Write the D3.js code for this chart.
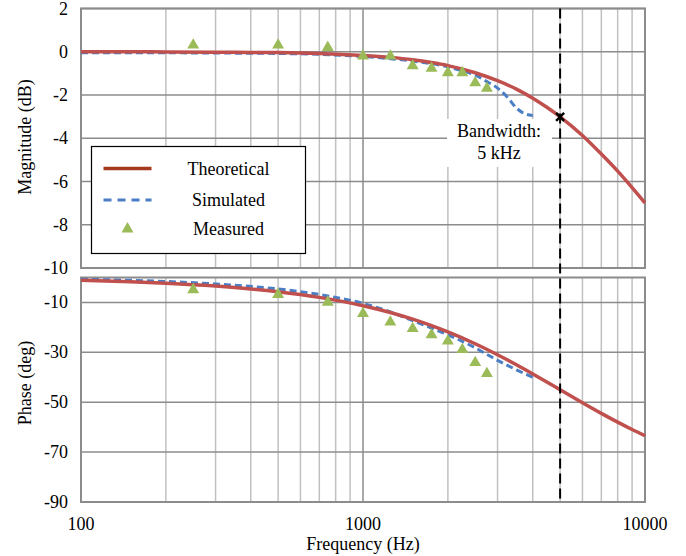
<!DOCTYPE html>
<html>
<head>
<meta charset="utf-8">
<script src="https://cdn.jsdelivr.net/npm/d3@7"></script>
<style>
  body { margin: 0; background: #fff; }
  svg text { font-family: "Liberation Serif", "DejaVu Serif", serif; fill: #000; }
</style>
</head>
<body>
<div id="chart"></div>
<script>
// theoretical curve
const theoFreq = [100, 150, 200, 300, 400, 500, 700, 1000, 1250, 1500, 1750, 2000, 2500, 3000, 3500, 4000, 4500, 5000, 6000, 7000, 8000, 9000, 10000]
const theoMag = [0, 0, -0.01, -0.02, -0.03, -0.04, -0.08, -0.17, -0.26, -0.37, -0.5, -0.64, -0.97, -1.34, -1.73, -2.15, -2.58, -3.01, -3.87, -4.73, -5.52, -6.28, -6.99]
const theoPhase = [-1.15, -1.72, -2.29, -3.43, -4.57, -5.71, -7.97, -11.31, -14.04, -16.7, -19.29, -21.8, -26.57, -30.96, -34.99, -38.66, -41.99, -45, -50.19, -54.46, -57.99, -60.95, -63.43]

// simulated
const simFreq = [100, 200, 300, 500, 700, 1000, 1250, 1500, 2000, 2250, 2500, 2750, 3000, 3250, 3500, 3750, 4000]
const simMag = [-0.05, -0.05, -0.06, -0.08, -0.12, -0.22, -0.32, -0.43, -0.7, -0.88, -1.08, -1.38, -1.68, -2.1, -2.6, -2.87, -2.95]
const simPhase = [-0.7, -1.6, -2.6, -4.6, -6.8, -10.4, -13.8, -17.3, -23.0, -25.6, -28.2, -30.8, -33.2, -35.2, -37.0, -38.6, -40.0]

// measured
const measFreq = [250, 500, 750, 1000, 1250, 1500, 1750, 2000, 2250, 2500, 2750]
const measMag = [0.31, 0.31, 0.2, -0.2, -0.2, -0.65, -0.77, -0.97, -0.97, -1.44, -1.69]
const measPhase = [-4.9, -6.8, -9.9, -14.5, -17.9, -20.5, -23.0, -25.5, -28.9, -34.1, -38.5]

const magTicks = [2, 0, -2, -4, -6, -8, -10]
const phaseTicks = [-10, -30, -50, -70, -90]
const freqTicks = [100, 1000, 10000]
const bandwidth = 5000
const bandwidthMag = -3.01

const width = 686
const height = 556
const font = '"Liberation Serif", "DejaVu Serif", serif'

const colors = {
  theo: "#C0504D",
  theoLegend: "#A33A1E",
  sim: "#4A7EC5",
  meas: "#9BBB59",
  major: "#8C8C8C",
  minor: "#C0C0C0"
}

const svg = d3.select("#chart").append("svg")
  .attr("width", width)
  .attr("height", height)
  .attr("font-family", font)
  .style("font-family", font)

const x = d3.scaleLog().domain([100, 10000]).range([81, 645])
const yMag = d3.scaleLinear().domain([-10, 2]).range([268, 8.5])
const yPh = d3.scaleLinear().domain([-90, 0]).range([502, 277.5])

const minorTicks = d3.range(2, 10).map(d => d * 100).concat(d3.range(2, 10).map(d => d * 1000))

function drawGrid(y, lines, labels) {
  const g = svg.append("g")
  g.selectAll(".minor").data(minorTicks).join("line")
    .attr("x1", d => x(d)).attr("x2", d => x(d))
    .attr("y1", y.range()[0]).attr("y2", y.range()[1])
    .attr("stroke", colors.minor).attr("stroke-width", 1.5)
  g.selectAll(".hline").data(lines).join("line")
    .attr("x1", x.range()[0]).attr("x2", x.range()[1])
    .attr("y1", d => y(d)).attr("y2", d => y(d))
    .attr("stroke", colors.major).attr("stroke-width", 1.5)
  g.append("line")
    .attr("x1", x(1000)).attr("x2", x(1000))
    .attr("y1", y.range()[0]).attr("y2", y.range()[1])
    .attr("stroke", colors.major).attr("stroke-width", 1.5)
  g.append("rect")
    .attr("x", x.range()[0]).attr("y", y.range()[1])
    .attr("width", x.range()[1] - x.range()[0])
    .attr("height", y.range()[0] - y.range()[1])
    .attr("fill", "none").attr("stroke", colors.major).attr("stroke-width", 2)

  g.selectAll(".lab").data(labels).join("text")
    .attr("x", 68).attr("y", d => y(d) + 6)
    .attr("text-anchor", "end")
    .attr("font-family", font)
    .style("font-size", "18px")
    .text(d => d)
}

drawGrid(yMag, magTicks, magTicks)
drawGrid(yPh, phaseTicks, phaseTicks)

// frequency labels
svg.selectAll(".xlab").data(freqTicks).join("text")
  .attr("x", d => x(d)).attr("y", 530)
  .attr("text-anchor", "middle")
  .style("font-size", "18px")
  .text(d => d)

svg.append("text")
  .attr("x", x(1000)).attr("y", 550)
  .attr("text-anchor", "middle")
  .style("font-size", "18px")
  .text("Frequency (Hz)")

svg.append("text")
  .attr("transform", "translate(31," + 137 + ") rotate(-90)")
  .attr("text-anchor", "middle")
  .style("font-size", "18px")
  .text("Magnitude (dB)")

svg.append("text")
  .attr("transform", "translate(31," + 383 + ") rotate(-90)")
  .attr("text-anchor", "middle")
  .style("font-size", "18px")
  .text("Phase (deg)")

// series
function drawSeries(freqs, vals, y, color, dash, w) {
  const line = d3.line()
    .x(d => x(d[0])).y(d => y(d[1]))
    .curve(d3.curveMonotoneX)
  svg.append("path")
    .datum(d3.zip(freqs, vals))
    .attr("d", line)
    .attr("fill", "none")
    .attr("stroke", color)
    .attr("stroke-width", w)
    .attr("stroke-dasharray", dash)
}

drawSeries(simFreq, simMag, yMag, colors.sim, "7,4", 3)
drawSeries(theoFreq, theoMag, yMag, colors.theo, null, 3.5)
drawSeries(simFreq, simPhase, yPh, colors.sim, "7,4", 3)
drawSeries(theoFreq, theoPhase, yPh, colors.theo, null, 3.5)

const tri = d3.symbol().type(d3.symbolTriangle).size(62)
svg.selectAll(".mm").data(d3.zip(measFreq, measMag)).join("path")
  .attr("d", tri)
  .attr("transform", d => "translate(" + x(d[0]) + "," + yMag(d[1]) + ")")
  .attr("fill", colors.meas)
svg.selectAll(".mp").data(d3.zip(measFreq, measPhase)).join("path")
  .attr("d", tri)
  .attr("transform", d => "translate(" + x(d[0]) + "," + yPh(d[1]) + ")")
  .attr("fill", colors.meas)

// bandwidth marker
svg.append("line")
  .attr("x1", x(bandwidth)).attr("x2", x(bandwidth))
  .attr("y1", yMag.range()[1]).attr("y2", yPh.range()[0])
  .attr("stroke", "#000").attr("stroke-width", 2)
  .attr("stroke-dasharray", "10,5")

const bx = x(bandwidth), by = yMag(bandwidthMag)
svg.append("path")
  .attr("d", `M${bx - 4},${by - 4}L${bx + 4},${by + 4}M${bx - 4},${by + 4}L${bx + 4},${by - 4}`)
  .attr("stroke", "#000").attr("stroke-width", 2.5)

svg.append("rect")
  .attr("x", 447).attr("y", 119).attr("width", 105).attr("height", 48)
  .attr("fill", "#fff")
svg.append("text")
  .attr("x", 499).attr("y", 137)
  .attr("text-anchor", "middle").style("font-size", "18px")
  .text("Bandwidth:")
svg.append("text")
  .attr("x", 499).attr("y", 159)
  .attr("text-anchor", "middle").style("font-size", "18px")
  .text("5 kHz")

// legend
const legend = svg.append("g").attr("transform", "translate(91.5,146.5)")
legend.append("rect")
  .attr("width", 214).attr("height", 107)
  .attr("fill", "#fff").attr("stroke", "#000").attr("stroke-width", 1.2)

const legendItems = ["Theoretical", "Simulated", "Measured"]
const legendY = [22, 53.5, 82.5]
legend.append("line")
  .attr("x1", 12).attr("x2", 60).attr("y1", legendY[0]).attr("y2", legendY[0])
  .attr("stroke", colors.theoLegend).attr("stroke-width", 3.5)
legend.append("line")
  .attr("x1", 12).attr("x2", 60).attr("y1", legendY[1]).attr("y2", legendY[1])
  .attr("stroke", colors.sim).attr("stroke-width", 3).attr("stroke-dasharray", "8,6")
legend.append("path")
  .attr("d", tri)
  .attr("transform", "translate(36," + legendY[2] + ")")
  .attr("fill", colors.meas)
legend.selectAll(".lt").data(legendItems).join("text")
  .attr("x", 137).attr("y", (d, i) => legendY[i] + 6)
  .attr("text-anchor", "middle").style("font-size", "18px")
  .text(d => d)
</script>
</body>
</html>
